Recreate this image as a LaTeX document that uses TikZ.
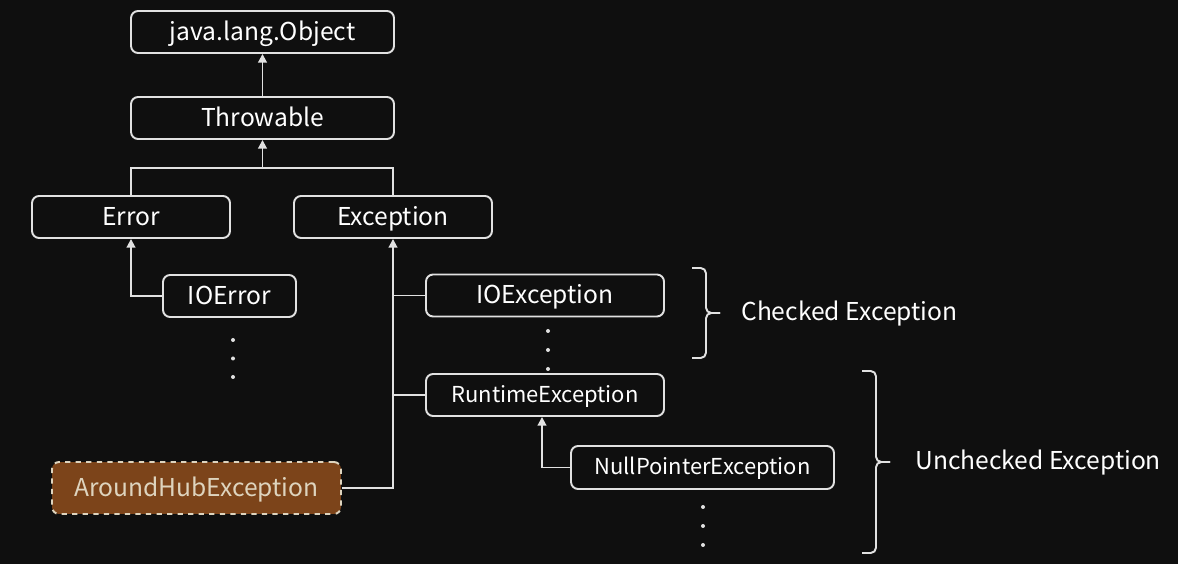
\documentclass[tikz,border=0pt]{standalone}
\usepackage{fontspec}
\setmainfont{Noto Sans CJK KR}
\usepackage{tikz}
\usepackage{xcolor}
\usetikzlibrary{arrows.meta}

\definecolor{bgdark}{RGB}{15,15,15}
\definecolor{linegray}{RGB}{225,225,225}
\definecolor{rust}{RGB}{124,68,26}
\definecolor{sand}{RGB}{222,212,190}

\begin{document}
\begin{tikzpicture}[
    x=0.02cm, y=-0.02cm,
    box/.style={rectangle, draw=linegray, line width=1.1pt, rounded corners=4pt,
                text=white, inner sep=0pt, minimum height=0.84cm,
                text height=10pt, text depth=0.5pt,
                font=\fontsize{14}{16}\selectfont},
    smallbox/.style={box, text height=9pt, font=\fontsize{12.5}{14}\selectfont},
    custom/.style={box, fill=rust, draw=sand, dashed, text=sand, minimum height=1.04cm},
    label/.style={text=white, anchor=west, inner sep=0pt, text height=10pt, text depth=0.5pt,
                  font=\fontsize{14}{16}\selectfont},
    conn/.style={draw=linegray, line width=1.1pt},
    arrow/.style={conn, -{Triangle[length=5pt, width=5pt]}},
    brace/.style={conn, rounded corners=3pt},
]

% 배경
\fill[bgdark] (0,0) rectangle (1178,564);

% 클래스 계층
\node[box, minimum width=5.26cm] (object)    at (262.5, 32)  {java.lang.Object};
\node[box, minimum width=5.26cm] (throwable) at (262.5, 118) {Throwable};
\node[box, minimum width=3.96cm] (error)     at (131, 217)   {Error};
\node[box, minimum width=3.96cm] (exception) at (393, 217)   {Exception};
\node[box, minimum width=2.66cm] (ioerror)   at (229.5, 296) {IOError};
\node[box, minimum width=4.76cm] (ioexc)     at (545, 295.5) {IOException};
\node[smallbox, minimum width=4.76cm] (runtime) at (545, 395) {RuntimeException};
\node[smallbox, minimum width=5.26cm, minimum height=0.86cm] (npe) at (702.5, 467.5) {NullPointerException};
\node[custom, minimum width=5.78cm] (around) at (196.5, 488) {AroundHubException};

% Connect children to parents
\coordinate (split) at (262.5, 168);
\draw[arrow] (throwable.north) -- (object.south);
\draw[arrow] (split) -- (throwable.south);
\draw[conn] (error.north) |- (split) -| (exception.north);
\draw[arrow] (ioerror.west) -| (error.south);
\draw[arrow] (around.east) -| (exception.south);
\draw[conn] (ioexc.west) -- (ioexc.west -| exception.south);
\draw[conn] (runtime.west) -- (runtime.west -| exception.south);
\draw[arrow] (npe.west) -| ([xshift=-0.06cm]runtime.south);

% 생략 점
\foreach \y in {340, 358.5, 377} \fill[linegray] (233, \y) circle (2);
\foreach \y in {331, 350, 369} \fill[linegray] (548, \y) circle (2);
\foreach \y in {507, 526, 545} \fill[linegray] (703, \y) circle (2);

% 괄호
\draw[brace] (692, 268) -- (706, 268) -- (706, 313) -- (720, 313);
\draw[brace] (720, 313) -- (706, 313) -- (706, 358) -- (692, 358);
\draw[brace] (862, 371) -- (876, 371) -- (876, 462) -- (890, 462);
\draw[brace] (890, 462) -- (876, 462) -- (876, 553) -- (862, 553);

% Labels on braces
\node[label] (checked)   at (741, 312) {Checked Exception};
\node[label] (unchecked) at (915, 461) {Unchecked Exception};

\end{tikzpicture}
\end{document}
